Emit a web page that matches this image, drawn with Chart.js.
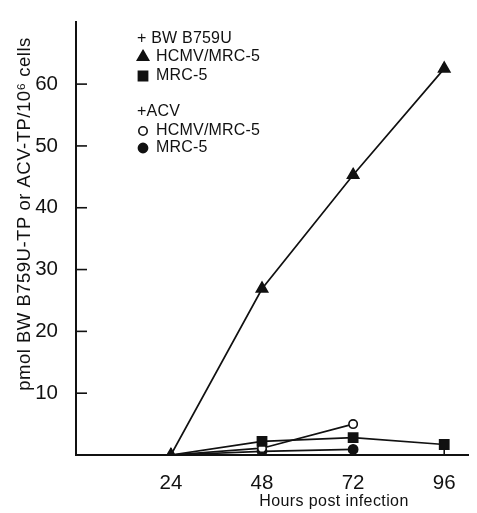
<!DOCTYPE html>
<html>
<head>
<meta charset="utf-8">
<script src="https://cdn.jsdelivr.net/npm/chart.js@4/dist/chart.umd.min.js"></script>
<style>
  html, body { margin: 0; padding: 0; background: #fff; }
  #wrap { width: 477px; height: 513px; position: relative; }
</style>
</head>
<body>
<div id="wrap"><canvas id="uptakeChart" width="477" height="513"></canvas></div>
<script>
    // hours post infection
    const hours = [24, 48, 72, 96];
    // +BW B759U, pmol/10^6 cells
    const bwHcmv = [0, 26.9, 45.3, 62.5];
    const bwMrc5 = [0, 2.2, 2.8, 1.7];
    // +ACV
    const acvHcmv = [0, 1.1, 5.0];
    const acvMrc5 = [0, 0.6, 0.9];
    const yTickValues = [10, 20, 30, 40, 50, 60];

    const ink = '#111';
    const fontFamily = '"Liberation Sans", Arial, Helvetica, sans-serif';

    function toPoints(values) {
      return values.map((v, i) => ({ x: hours[i], y: v }));
    }

    // short tick marks drawn inside the plot, like the original figure
    const inwardTicks = {
      id: 'inwardTicks',
      beforeDatasetsDraw(chart) {
        const { ctx, chartArea, scales: { x, y } } = chart;
        ctx.save();
        ctx.strokeStyle = ink;
        ctx.lineWidth = 1.6;
        y.ticks.forEach(t => {
          const py = y.getPixelForValue(t.value);
          ctx.beginPath();
          ctx.moveTo(chartArea.left, py);
          ctx.lineTo(chartArea.left + 11, py);
          ctx.stroke();
        });
        x.ticks.forEach(t => {
          const px = x.getPixelForValue(t.value);
          ctx.beginPath();
          ctx.moveTo(px, chartArea.bottom);
          ctx.lineTo(px, chartArea.bottom - 7);
          ctx.stroke();
        });
        ctx.restore();
      }
    };

    // axis titles and the grouped key
    const annotations = {
      id: 'annotations',
      afterDraw(chart) {
        const { ctx } = chart;
        const H = Chart.helpers;
        ctx.save();
        ctx.fillStyle = ink;
        ctx.strokeStyle = ink;
        ctx.textBaseline = 'middle';

        // x title
        ctx.font = '16px ' + fontFamily;
        ctx.textAlign = 'center';
        ctx.letterSpacing = '0.4px';
        ctx.fillText('Hours post infection', 334, 502);

        // y title
        ctx.save();
        ctx.translate(25, 214);
        ctx.rotate(-Math.PI / 2);
        ctx.font = '18.5px ' + fontFamily;
        ctx.letterSpacing = '0.5px';
        ctx.fillText('pmol BW B759U-TP or ACV-TP/10\u2076 cells', 0, 0);
        ctx.restore();

        // key
        ctx.textAlign = 'left';
        ctx.letterSpacing = '0.2px';
        ctx.font = '16px ' + fontFamily;
        ctx.fillText('+ BW B759U', 137, 39);
        ctx.fillText('+ACV', 137, 112);
        const rows = [
          { y: 57, style: 'triangle', fill: ink, r: 6.5, label: 'HCMV/MRC-5' },
          { y: 76, style: 'rect', fill: ink, r: 6.5, label: 'MRC-5' },
          { y: 131, style: 'circle', fill: '#fff', r: 4.2, label: 'HCMV/MRC-5' },
          { y: 148, style: 'circle', fill: ink, r: 4.6, label: 'MRC-5' }
        ];
        rows.forEach(row => {
          ctx.fillStyle = row.fill;
          ctx.lineWidth = 1.6;
          H.drawPoint(ctx, { pointStyle: row.style, radius: row.r, borderWidth: 1.6, rotation: 0 }, 143, row.y);
          ctx.fillStyle = ink;
          ctx.fillText(row.label, 156, row.y);
        });
        ctx.restore();
      }
    };

    const lineBase = {
      borderColor: ink,
      borderWidth: 1.7,
      tension: 0,
      fill: false,
      pointBorderColor: ink,
      pointBorderWidth: 1.6
    };

    const uptakeChart = new Chart(document.getElementById('uptakeChart'), {
      type: 'line',
      data: {
        datasets: [
          Object.assign({}, lineBase, {
            label: 'BW B759U HCMV/MRC-5',
            data: toPoints(bwHcmv),
            pointStyle: 'triangle',
            pointRadius: 6.5,
            pointBackgroundColor: ink
          }),
          Object.assign({}, lineBase, {
            label: 'BW B759U MRC-5',
            data: toPoints(bwMrc5),
            pointStyle: 'rect',
            pointRadius: [0, 6.5, 6.5, 6.5],
            pointBackgroundColor: ink
          }),
          Object.assign({}, lineBase, {
            label: 'ACV HCMV/MRC-5',
            data: toPoints(acvHcmv),
            pointStyle: 'circle',
            pointRadius: [0, 4.2, 4.2],
            pointBackgroundColor: '#fff'
          }),
          Object.assign({}, lineBase, {
            label: 'ACV MRC-5',
            data: toPoints(acvMrc5),
            pointStyle: 'circle',
            pointRadius: [0, 4.6, 4.6],
            pointBackgroundColor: ink
          })
        ]
      },
      options: {
        responsive: false,
        animation: false,
        layout: { padding: { top: 13, right: 0, bottom: 0, left: 0 } },
        plugins: {
          legend: { display: false },
          tooltip: { enabled: false }
        },
        scales: {
          x: {
            type: 'linear',
            min: -1,
            max: 102.5,
            grid: { display: false },
            border: { display: true, color: ink, width: 2 },
            afterBuildTicks: scale => { scale.ticks = hours.map(v => ({ value: v })); },
            afterFit: scale => { scale.height = 58; },
            ticks: {
              color: ink,
              padding: 8,
              maxRotation: 0,
              font: { family: fontFamily, size: 20.5 }
            }
          },
          y: {
            type: 'linear',
            min: 0,
            max: 70,
            grid: { display: false },
            border: { display: true, color: ink, width: 2 },
            afterBuildTicks: scale => { scale.ticks = yTickValues.map(v => ({ value: v })); },
            afterFit: scale => { scale.width = 76; },
            ticks: {
              color: ink,
              padding: 10,
              font: { family: fontFamily, size: 20.5 }
            }
          }
        }
      },
      plugins: [inwardTicks, annotations]
    });
</script>
</body>
</html>
